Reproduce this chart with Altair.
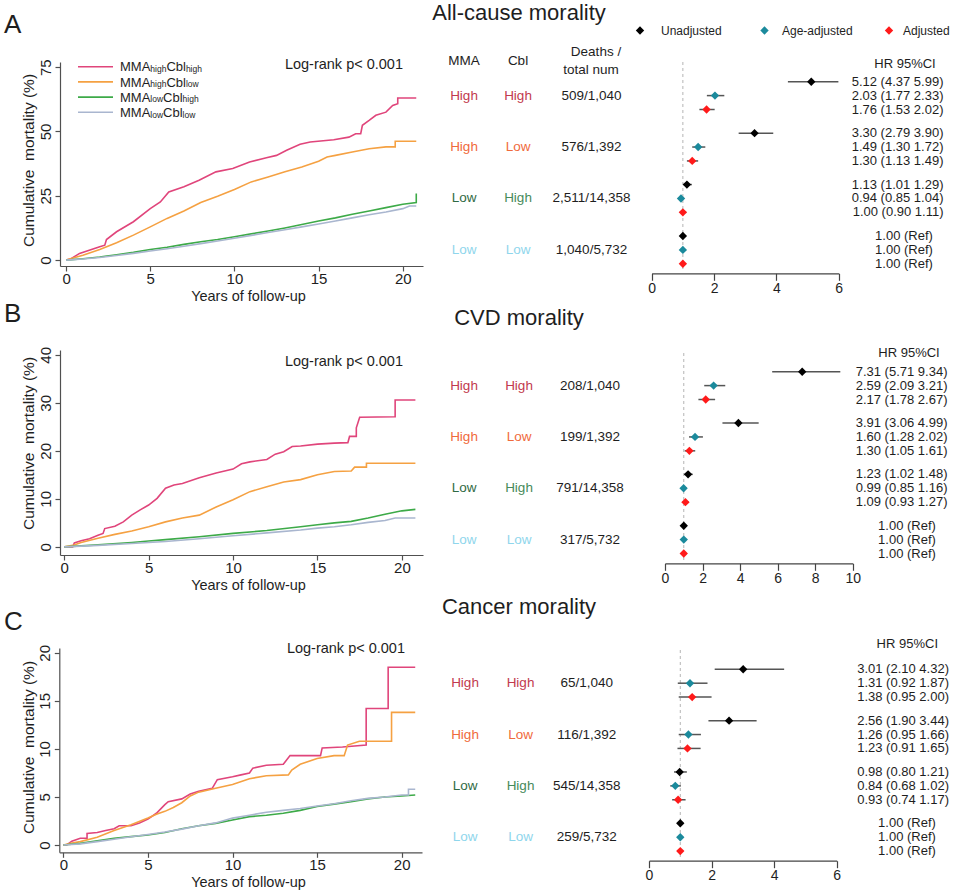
import altair as alt
import pandas as pd

FONT = "Liberation Sans"
NARROW = "Liberation Sans Narrow, Arial Narrow, Liberation Sans"
W, H = 960, 893
INK = "#1e1e1e"
AXIS_INK = "#505050"

# ---------------- categories / labels ----------------
GROUPS = ["HH", "HL", "LH", "LL"]
KM_COLORS = ["#e0457b", "#f5a142", "#3daa48", "#a9b6cf"]
SUB_MMA = ["high", "high", "low", "low"]
SUB_CBL = ["high", "low", "high", "low"]
TAB_MMA = ["High", "High", "Low", "Low"]
TAB_CBL = ["High", "Low", "High", "Low"]
MMA_COLORS = ["#c23a4e", "#f06a3c", "#2f6a44", "#8fd6ec"]
CBL_COLORS = ["#c23a4e", "#f06a3c", "#468a5a", "#8fd6ec"]
HR_TYPES = ["Unadjusted", "Age-adjusted", "Adjusted"]
HR_COLORS = ["#000000", "#1b8a9c", "#ff1a1a"]
PANEL_TITLES = ["All-cause morality", "CVD morality", "Cancer morality"]
LETTERS = ["A", "B", "C"]

# ---------------- Kaplan-Meier cumulative mortality (years, %) ----------------
A_hh = [(0, 0), (0.3, 0.5), (0.8, 2.6), (2.0, 5.2), (2.3, 5.8), (2.4, 8.0), (3.0, 11.0), (4.0, 14.9),
        (5.0, 20.0), (5.6, 22.6), (6.1, 26.5), (7.0, 28.5), (7.9, 31.0), (8.9, 34.3), (9.9, 35.6),
        (10.9, 38.1), (11.9, 39.8), (12.5, 40.7), (13.1, 42.7), (13.9, 45.0), (14.5, 45.9), (15.9, 46.8),
        (16.8, 47.8), (17.2, 49.1), (17.5, 49.1), (17.6, 52.4), (18.0, 54.3), (18.4, 56.3), (19.0, 57.5),
        (19.4, 60.1), (19.7, 60.8), (19.7, 63.0), (20.8, 63.0)]
A_hl = [(0, 0), (1, 1.9), (2, 4.1), (3, 6.7), (4, 9.7), (5, 12.9), (6, 16.2), (7, 19.1), (8, 22.4),
        (9, 24.8), (10, 27.4), (11, 30.4), (12, 32.3), (13, 34.3), (14, 36.2), (15, 38.4), (15.5, 40.1),
        (16, 40.7), (17, 42.0), (18, 43.3), (19, 44.0), (19.55, 44.0), (19.55, 46.2), (20.8, 46.2)]
A_lh = [(0, 0), (1, 0.5), (2, 1.2), (3, 2.1), (4, 3.0), (5, 4.1), (6, 5.0), (7, 6.1), (8, 7.1), (9, 8.0),
        (10, 9.1), (11, 10.2), (12, 11.3), (13, 12.5), (14, 13.8), (15, 15.2), (16, 16.4), (17, 17.8),
        (18, 19.1), (19, 20.4), (20, 21.7), (20.8, 22.4), (20.8, 25.9)]
A_ll = [(0, 0), (1, 0.4), (2, 1.0), (3, 1.8), (4, 2.6), (5, 3.5), (6, 4.4), (7, 5.4), (8, 6.4), (9, 7.4),
        (10, 8.5), (11, 9.6), (12, 10.7), (13, 11.8), (14, 12.9), (15, 14.0), (16, 15.2), (17, 16.4),
        (18, 17.6), (19, 18.7), (20, 20.0), (20.4, 21.0), (20.8, 21.0)]

B_hh = [(0, 0), (0.5, 0), (0.6, 0.8), (1, 1.25), (1.5, 1.7), (2, 2.4), (2.3, 2.8), (2.4, 3.8), (3, 4.3),
        (3.5, 5.2), (4, 6.6), (4.5, 7.7), (5, 8.7), (5.5, 10.1), (6, 12.2), (6.5, 12.9), (7, 13.2),
        (8, 14.4), (9, 15.4), (10, 16.2), (10.5, 17.3), (11, 17.7), (12, 18.2), (12.5, 19.3), (13, 19.8),
        (13.5, 20.9), (14, 21.0), (15, 21.4), (16, 21.6), (16.8, 21.7), (16.9, 23.0), (17.3, 23.0),
        (17.3, 24.8), (17.5, 27.0), (19.6, 27.1), (19.6, 30.6), (20.8, 30.6)]
B_hl = [(0, 0), (0.5, 0.3), (1, 0.9), (2, 1.8), (3, 2.6), (4, 3.3), (5, 4.2), (6, 5.2), (7, 6.0), (8, 6.6),
        (9, 8.3), (10, 9.8), (11, 11.5), (12, 12.5), (13, 13.5), (14, 14.0), (15, 15.0), (16, 15.7),
        (17, 15.8), (17.2, 16.6), (17.9, 16.6), (17.9, 17.4), (20.8, 17.4)]
B_lh = [(0, 0), (2, 0.4), (4, 0.9), (5, 1.2), (6, 1.5), (8, 2.1), (10, 2.8), (12, 3.4), (14, 4.2),
        (15, 4.6), (16, 5.0), (17, 5.3), (18, 6.0), (19, 6.8), (20, 7.5), (20.8, 7.8)]
B_ll = [(0, 0), (2, 0.3), (4, 0.7), (5, 0.9), (6, 1.1), (8, 1.7), (10, 2.3), (12, 2.9), (14, 3.5),
        (15, 3.9), (16, 4.2), (17, 4.6), (18, 5.1), (19, 5.5), (19.6, 6.0), (20.8, 6.0)]

C_hh = [(0, 0), (0.2, 0), (0.5, 0.4), (1, 0.7), (1.4, 0.7), (1.4, 1.2), (2, 1.3), (2.5, 1.5), (3, 1.7),
        (3.3, 2.0), (4, 2.0), (4.5, 2.3), (5, 2.7), (5.5, 3.3), (6, 4.2), (6.2, 4.5), (7, 4.8), (7.5, 5.3),
        (8, 5.6), (8.8, 5.9), (9.1, 6.8), (10, 7.1), (10.5, 7.3), (11, 7.5), (11.2, 8.0), (12, 8.3),
        (13, 8.4), (13.4, 9.3), (15.2, 9.3), (15.3, 10.1), (16.5, 10.2), (17.9, 10.4), (17.9, 14.2),
        (19.2, 14.2), (19.2, 18.5), (20.8, 18.5)]
C_hl = [(0, 0), (0.5, 0.2), (1, 0.35), (2, 0.8), (3, 1.5), (4, 2.1), (5, 2.8), (5.5, 3.2), (6, 3.5),
        (6.5, 3.9), (7, 4.4), (7.5, 5.1), (8, 5.5), (9, 5.9), (10, 6.3), (11, 6.9), (12, 7.2), (13.3, 7.3),
        (13.5, 7.8), (14, 8.4), (15, 9.0), (16, 9.3), (16.6, 9.3), (16.8, 10.4), (17.5, 10.8), (19.4, 10.8),
        (19.4, 13.8), (20.8, 13.8)]
C_lh = [(0, 0), (1, 0.17), (2, 0.45), (3, 0.7), (4, 0.87), (5, 1.04), (6, 1.3), (7, 1.7), (8, 2.0),
        (9, 2.25), (10, 2.6), (11, 2.95), (12, 3.1), (13, 3.3), (14, 3.6), (15, 4.0), (16, 4.25), (17, 4.5),
        (18, 4.8), (19, 5.0), (20, 5.1), (20.8, 5.2)]
C_ll = [(0, 0), (1, 0.12), (2, 0.35), (3, 0.6), (4, 0.85), (5, 1.1), (6, 1.35), (7, 1.65), (8, 2.0),
        (9, 2.3), (10, 2.8), (11, 3.1), (12, 3.4), (13, 3.6), (14, 3.8), (15, 4.05), (16, 4.3), (17, 4.6),
        (18, 4.85), (19, 5.0), (20, 5.2), (20.4, 5.2), (20.4, 5.8), (20.8, 5.8)]

# ---------------- table: deaths / total ----------------
A_deaths = ["509/1,040", "576/1,392", "2,511/14,358", "1,040/5,732"]
B_deaths = ["208/1,040", "199/1,392", "791/14,358", "317/5,732"]
C_deaths = ["65/1,040", "116/1,392", "545/14,358", "259/5,732"]

# ---------------- hazard ratios (order: group x [unadj, age-adj, adj]) ----------------
A_hr = [5.12, 2.03, 1.76, 3.30, 1.49, 1.30, 1.13, 0.94, 1.00, 1.00, 1.00, 1.00]
A_lo = [4.37, 1.77, 1.53, 2.79, 1.30, 1.13, 1.01, 0.85, 0.90, 1.00, 1.00, 1.00]
A_hi = [5.99, 2.33, 2.02, 3.90, 1.72, 1.49, 1.29, 1.04, 1.11, 1.00, 1.00, 1.00]
B_hr = [7.31, 2.59, 2.17, 3.91, 1.60, 1.30, 1.23, 0.99, 1.09, 1.00, 1.00, 1.00]
B_lo = [5.71, 2.09, 1.78, 3.06, 1.28, 1.05, 1.02, 0.85, 0.93, 1.00, 1.00, 1.00]
B_hi = [9.34, 3.21, 2.67, 4.99, 2.02, 1.61, 1.48, 1.16, 1.27, 1.00, 1.00, 1.00]
C_hr = [3.01, 1.31, 1.38, 2.56, 1.26, 1.23, 0.98, 0.84, 0.93, 1.00, 1.00, 1.00]
C_lo = [2.10, 0.92, 0.95, 1.90, 0.95, 0.91, 0.80, 0.68, 0.74, 1.00, 1.00, 1.00]
C_hi = [4.32, 1.87, 2.00, 3.44, 1.66, 1.65, 1.21, 1.02, 1.17, 1.00, 1.00, 1.00]

# ---------------- layout (pixels) ----------------
GEOM = [
    dict(kx_dom=[-0.36, 21.2], kx_rng=[60, 423], ky_dom=[-2.3, 77], ky_rng=[266, 62], yticks=[0, 25, 50, 75],
         kx_axis=266, ky_axis=60, ytitle_y=160, lr=(403, 65), letter_y=33, title_y=19.5,
         cols=[464, 518, 591.5, 904, 943.5], slot=[81.7, 236], fx_dom=[0, 6], fx_rng=[651.7, 838.7],
         fticks=[0, 2, 4, 6], f_axis=273.3, hr_head=(905, 68), ref=(62, 270)),
    dict(kx_dom=[-0.25, 21.25], kx_rng=[60, 423], ky_dom=[-1.7, 41], ky_rng=[555, 350], yticks=[0, 10, 20, 30, 40],
         kx_axis=555, ky_axis=60, ytitle_y=443, lr=(403, 361.7), letter_y=321.5, title_y=325,
         cols=[464, 519, 590, 907, 947.5], slot=[371.7, 525.7], fx_dom=[0, 10], fx_rng=[665, 852.7],
         fticks=[0, 2, 4, 6, 8, 10], f_axis=563.3, hr_head=(909, 356.7), ref=(353, 560)),
    dict(kx_dom=[-0.24, 21.2], kx_rng=[59.3, 422], ky_dom=[-0.76, 20.5], ky_rng=[852.3, 648], yticks=[0, 5, 10, 15, 20],
         kx_axis=852.3, ky_axis=59.3, ytitle_y=747, lr=(405, 649.3), letter_y=630, title_y=614,
         cols=[465, 520.5, 586.7, 907, 949], slot=[669.3, 823.3], fx_dom=[0, 6], fx_rng=[649, 836.7],
         fticks=[0, 2, 4, 6], f_axis=860.7, hr_head=(907.3, 648.3), ref=(650, 857)),
]
SUB_STEP_PX = 13.9


def lin(dom, rng):
    return alt.Scale(domain=list(dom), range=list(rng), nice=False, zero=False)


def note(label, x, y, size, align="left", baseline="alphabetic", color=INK, dx=0):
    return alt.Chart(alt.Data(values=[{"label": label}])).mark_text(
        font=FONT, fontSize=size, align=align, baseline=baseline, color=color, dx=dx
    ).encode(x=alt.value(x), y=alt.value(y), text=alt.Text("label:N"))


def km_layer(curves, g):
    rows = []
    for gi, pts in enumerate(curves):
        for i, (t, v) in enumerate(pts):
            rows.append({"group": GROUPS[gi], "t": t, "v": v, "i": i})
    df = pd.DataFrame(rows)
    xaxis = alt.Axis(orient="bottom", offset=g["kx_axis"] - H, values=[0, 5, 10, 15, 20], grid=False,
                     tickSize=5, tickColor=AXIS_INK, tickWidth=1.2, domainColor=AXIS_INK, domainWidth=1.2,
                     labelPadding=0, labelFont=FONT, labelFontSize=15, labelColor=INK, labelFlush=False,
                     title="Years of follow-up", titleFont=FONT, titleFontSize=14.5, titleFontWeight="normal",
                     titleColor=INK, titleX=248, titleY=30, titleBaseline="middle", titleAlign="center")
    yaxis = alt.Axis(orient="left", offset=-g["ky_axis"], values=g["yticks"], grid=False,
                     tickSize=5, tickColor=AXIS_INK, tickWidth=1.2, domainColor=AXIS_INK, domainWidth=1.2,
                     labelPadding=2, labelFont=FONT, labelFontSize=15, labelColor=INK, labelFlush=False,
                     labelAngle=270, labelAlign="center", labelBaseline="bottom",
                     title="Cumulative\u00a0 mortality (%)", titleFont=FONT, titleFontSize=15.5,
                     titleFontWeight="normal", titleColor=INK, titleAngle=270, titleX=28 - g["ky_axis"],
                     titleY=g["ytitle_y"], titleBaseline="middle", titleAlign="center")
    return alt.Chart(df).mark_line(strokeWidth=1.6).encode(
        x=alt.X("t:Q", scale=lin(g["kx_dom"], g["kx_rng"]), axis=xaxis),
        y=alt.Y("v:Q", scale=lin(g["ky_dom"], g["ky_rng"]), axis=yaxis),
        color=alt.Color("group:N", scale=alt.Scale(domain=GROUPS, range=KM_COLORS), legend=None),
        order=alt.Order("i:Q"),
    )


def km_legend():
    big, small = 13, 8.5
    w_mma, w_cbl = 2.333 * big, 1.5 * big
    sub_w = {"high": 1.889 * small, "low": 1.5 * small}
    rows = []
    for gi in range(4):
        w1 = sub_w[SUB_MMA[gi]]
        rows.append({"row": gi, "group": GROUPS[gi], "sub1": SUB_MMA[gi], "sub2": SUB_CBL[gi],
                     "x_mma": 0, "x_sub1": w_mma, "x_cbl": w_mma + w1, "x_sub2": w_mma + w1 + w_cbl,
                     "x0": -42, "x1": -7})
    df = pd.DataFrame(rows)
    lx = lin([0, 100], [120, 220])
    ly = lin([0, 3], [66.7, 112.3])
    base = alt.Chart(df)
    layers = [
        base.mark_rule(strokeWidth=1.6).encode(
            x=alt.X("x0:Q", scale=lx, axis=None), x2="x1:Q", y=alt.Y("row:Q", scale=ly, axis=None),
            color=alt.Color("group:N", scale=alt.Scale(domain=GROUPS, range=KM_COLORS), legend=None)),
    ]
    pieces = [("x_mma", "MMA", None, big, 4.6), ("x_sub1", None, "sub1", small, 5.2),
              ("x_cbl", "Cbl", None, big, 4.6), ("x_sub2", None, "sub2", small, 5.2)]
    for xf, const, field, size, dy in pieces:
        mk = base.mark_text(font=FONT, fontSize=size, align="left", baseline="alphabetic", dy=dy, color=INK,
                            **({"text": const} if const else {}))
        enc = dict(x=alt.X(f"{xf}:Q", scale=lx, axis=None), y=alt.Y("row:Q", scale=ly, axis=None))
        if field:
            enc["text"] = alt.Text(f"{field}:N")
        layers.append(mk.encode(**enc))
    return layers


def forest_layers(deaths, hr, lo, hi, g):
    s0, s3 = g["slot"]
    group_px = (s3 - s0) / 3.0
    sub = SUB_STEP_PX / group_px
    yscale = lin([0, 3], [s0, s3])
    xtab = lin([0, 1, 2, 3, 4], g["cols"])
    fx = lin(g["fx_dom"], g["fx_rng"])

    # table cells
    cells = []
    ckeys, ccols = [], []
    for gi in range(4):
        y = gi + sub
        cells.append({"row": y, "col": 0, "label": TAB_MMA[gi], "ck": f"m{gi}"})
        cells.append({"row": y, "col": 1, "label": TAB_CBL[gi], "ck": f"c{gi}"})
        cells.append({"row": y, "col": 2, "label": deaths[gi], "ck": "d"})
        ckeys += [f"m{gi}", f"c{gi}"]
        ccols += [MMA_COLORS[gi], CBL_COLORS[gi]]
    ckeys.append("d")
    ccols.append(INK)
    table = alt.Chart(pd.DataFrame(cells)).mark_text(font=FONT, fontSize=13.5, align="center",
                                                     baseline="middle").encode(
        x=alt.X("col:Q", scale=xtab, axis=None), y=alt.Y("row:Q", scale=yscale, axis=None),
        text=alt.Text("label:N"),
        color=alt.Color("ck:N", scale=alt.Scale(domain=ckeys, range=ccols), legend=None))

    # hazard ratios
    rows = []
    for k in range(12):
        gi, s = divmod(k, 3)
        ref = gi == 3
        lab = "1.00 (Ref)" if ref else f"{hr[k]:.2f} ({lo[k]:.2f} {hi[k]:.2f})"
        rows.append({"slot": gi + s * sub, "type": HR_TYPES[s], "hr": hr[k], "lo": lo[k], "hi": hi[k],
                     "ref": ref, "label": lab, "col": 3 if ref else 4})
    fdf = pd.DataFrame(rows)
    fbase = alt.Chart(fdf)

    to_slot = lambda px: (px - s0) / group_px
    refdf = pd.DataFrame({"x": [1.0], "ya": [to_slot(g["ref"][0])], "yb": [to_slot(g["ref"][1])]})
    refline = alt.Chart(refdf).mark_rule(strokeDash=[3, 3], color="#b5b5b5", strokeWidth=1).encode(
        x=alt.X("x:Q", scale=fx, axis=None), y=alt.Y("ya:Q", scale=yscale, axis=None), y2="yb:Q")

    ci = fbase.mark_rule(color="#555555", strokeWidth=1.5).encode(
        x=alt.X("lo:Q", scale=fx, axis=None), x2="hi:Q", y=alt.Y("slot:Q", scale=yscale, axis=None))

    faxis = alt.Axis(orient="bottom", offset=g["f_axis"] - H, values=g["fticks"], grid=False, tickSize=7,
                     tickColor="#444444", tickWidth=1.2, domainColor="#444444", domainWidth=1.2,
                     labelPadding=1, labelFont=FONT, labelFontSize=14, labelColor=INK, labelFlush=False,
                     title=None)
    pts = fbase.mark_point(shape="diamond", filled=True, size=70, opacity=1).encode(
        x=alt.X("hr:Q", scale=fx, axis=faxis), y=alt.Y("slot:Q", scale=yscale, axis=None),
        color=alt.Color("type:N", scale=alt.Scale(domain=HR_TYPES, range=HR_COLORS), legend=None))

    hr_txt = fbase.transform_filter("!datum.ref").mark_text(
        font=NARROW, fontSize=13, align="right", baseline="middle", color=INK).encode(
        x=alt.X("col:Q", scale=xtab, axis=None), y=alt.Y("slot:Q", scale=yscale, axis=None),
        text=alt.Text("label:N"))
    ref_txt = fbase.transform_filter("datum.ref").mark_text(
        font=NARROW, fontSize=13, align="center", baseline="middle", color=INK).encode(
        x=alt.X("col:Q", scale=xtab, axis=None), y=alt.Y("slot:Q", scale=yscale, axis=None),
        text=alt.Text("label:N"))

    head = note("HR 95%CI", g["hr_head"][0], g["hr_head"][1], 13, align="center")
    return [table, refline, ci, pts, hr_txt, ref_txt, head]


def forest_legend():
    df = pd.DataFrame({"idx": [0, 1, 2], "type": HR_TYPES})
    pts = alt.Chart(df).mark_point(shape="diamond", filled=True, size=70, opacity=1).encode(
        x=alt.X("idx:Q", scale=lin([0, 2], [640, 889]), axis=None), y=alt.value(30.5),
        color=alt.Color("type:N", scale=alt.Scale(domain=HR_TYPES, range=HR_COLORS), legend=None))
    txt = alt.Chart(df).mark_text(font=FONT, fontSize=12, align="left", baseline="middle", color=INK).encode(
        x=alt.X("idx:Q", scale=lin([0, 2], [661, 903]), axis=None), y=alt.value(30.5),
        text=alt.Text("type:N"))
    return [pts, txt]


PANELS = [
    ([A_hh, A_hl, A_lh, A_ll], A_deaths, A_hr, A_lo, A_hi),
    ([B_hh, B_hl, B_lh, B_ll], B_deaths, B_hr, B_lo, B_hi),
    ([C_hh, C_hl, C_lh, C_ll], C_deaths, C_hr, C_lo, C_hi),
]

layers = []
for p, (curves, deaths, hr, lo, hi) in enumerate(PANELS):
    g = GEOM[p]
    layers.append(km_layer(curves, g))
    layers.append(note("Log-rank p< 0.001", g["lr"][0], g["lr"][1], 14.5, align="right", baseline="middle"))
    layers.append(note(LETTERS[p], 4, g["letter_y"], 26))
    layers.append(note(PANEL_TITLES[p], 519, g["title_y"], 22, align="center"))
    layers += forest_layers(deaths, hr, lo, hi, g)

layers += km_legend()
layers += forest_legend()
layers.append(note("MMA", 464, 65, 13.5, align="center"))
layers.append(note("Cbl", 518, 65, 13.5, align="center"))
layers.append(note("Deaths /", 596, 56, 13.5, align="center"))
layers.append(note("total num", 591, 74, 13.5, align="center"))

chart = alt.layer(*layers).resolve_scale(
    x="independent", y="independent", color="independent"
).resolve_axis(
    x="independent", y="independent"
).properties(
    width=W, height=H, autosize=alt.AutoSizeParams(type="none"), padding=0, background="white"
).configure_view(strokeWidth=0)

chart.save("out.html", embed_options={"renderer": "svg", "actions": False})
